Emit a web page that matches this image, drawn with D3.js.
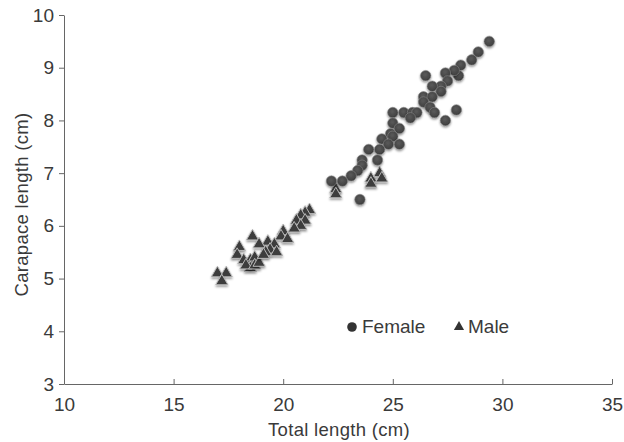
<!DOCTYPE html>
<html>
<head>
<meta charset="utf-8">
<script src="https://cdn.jsdelivr.net/npm/d3@7"></script>
<style>
  body { margin: 0; background: #fff; }
  svg { font-family: "Liberation Sans", Arial, sans-serif; }
  .axis path, .axis line { stroke: #666; }
  .axis text { font-size: 19px; fill: #3a3a3a; }
</style>
</head>
<body>
<svg id="chart" width="624" height="442"></svg>
<script>
// Female: total length (cm), carapace length (cm)
const femaleTL = [29.4, 28.9, 28.6, 28.1, 28.0, 27.8, 27.4, 26.5, 27.5, 27.2, 26.8, 27.2, 26.4, 26.8,
  26.4, 26.7, 27.9, 26.9, 27.4, 25.0, 25.5, 25.9, 26.1, 25.8, 25.0, 25.3, 24.9, 25.0, 24.5, 24.8,
  25.3, 24.4, 23.9, 24.3, 23.6, 23.6, 23.4, 23.1, 22.7, 22.2, 23.5];
const femaleCL = [9.5, 9.3, 9.15, 9.05, 8.85, 8.95, 8.9, 8.85, 8.75, 8.65, 8.65, 8.55, 8.45, 8.45,
  8.35, 8.25, 8.2, 8.15, 8.0, 8.15, 8.15, 8.15, 8.15, 8.05, 7.95, 7.85, 7.75, 7.7, 7.65, 7.55,
  7.55, 7.45, 7.45, 7.25, 7.25, 7.15, 7.05, 6.95, 6.85, 6.85, 6.5];
// Male
const maleTL = [21.2, 21.0, 20.8, 20.6, 21.0, 20.8, 20.5, 20.0, 19.9, 18.6, 19.3, 18.9, 19.6, 19.4,
  19.2, 18.0, 17.9, 18.2, 18.5, 18.7, 18.5, 17.0, 17.4, 17.2, 22.4, 22.4, 24.0, 24.0, 24.4, 24.5,
  18.3, 18.7, 18.9, 19.1, 19.7, 20.2];
const maleCL = [6.3, 6.25, 6.2, 6.1, 6.1, 6.0, 5.95, 5.9, 5.8, 5.8, 5.7, 5.65, 5.65, 5.55,
  5.5, 5.6, 5.45, 5.35, 5.35, 5.4, 5.2, 5.1, 5.1, 4.95, 6.7, 6.6, 6.9, 6.8, 7.0, 6.9,
  5.25, 5.25, 5.3, 5.45, 5.5, 5.75];

const xTicks = [10, 15, 20, 25, 30, 35];
const yTicks = [3, 4, 5, 6, 7, 8, 9, 10];

const svg = d3.select('#chart');
const margin = {left: 64, right: 12, top: 15, bottom: 58};
const width = 624, height = 442;

const x = d3.scaleLinear().domain([10, 35]).range([margin.left, width - margin.right]);
const y = d3.scaleLinear().domain([3, 10]).range([height - margin.bottom, margin.top]);

// shading for markers
const defs = svg.append('defs');
const grad = defs.append('radialGradient').attr('id', 'dotGrad')
  .attr('cx', '45%').attr('cy', '40%').attr('r', '60%');
grad.append('stop').attr('offset', '0%').attr('stop-color', '#5a5a5a');
grad.append('stop').attr('offset', '80%').attr('stop-color', '#444');
grad.append('stop').attr('offset', '100%').attr('stop-color', '#2c2c2c');
const shadow = defs.append('filter').attr('id', 'shadow')
  .attr('x', '-50%').attr('y', '-50%').attr('width', '200%').attr('height', '200%');
shadow.append('feDropShadow').attr('dx', 0).attr('dy', 1.5).attr('stdDeviation', 1.3)
  .attr('flood-color', '#000').attr('flood-opacity', 0.45);

// axes
const xAxis = d3.axisBottom(x).tickValues(xTicks).tickFormat(d3.format('d'))
  .tickSizeInner(-5).tickSizeOuter(0).tickPadding(14);
svg.append('g').attr('class', 'axis')
  .attr('transform', `translate(0,${y(3)})`)
  .call(xAxis);

const yAxis = d3.axisLeft(y).tickValues(yTicks).tickFormat(d3.format('d'))
  .tickSizeInner(5).tickSizeOuter(0).tickPadding(5);
svg.append('g').attr('class', 'axis')
  .attr('transform', `translate(${x(10)},0)`)
  .call(yAxis);

svg.append('text')
  .attr('x', (x(10) + x(35)) / 2 + 1).attr('y', 436)
  .attr('text-anchor', 'middle').attr('font-size', 18.5).attr('fill', '#3a3a3a')
  .attr('letter-spacing', 0.3)
  .text('Total length (cm)');

svg.append('text')
  .attr('transform', `translate(28,${(y(3) + y(10)) / 2 + 5}) rotate(-90)`)
  .attr('text-anchor', 'middle').attr('font-size', 18.5).attr('fill', '#3a3a3a')
  .attr('letter-spacing', 0.3)
  .text('Carapace length (cm)');

// points
const tri = d3.symbol().type(d3.symbolTriangle).size(64);

const males = maleTL.map((v, i) => [v, maleCL[i]]);
const females = femaleTL.map((v, i) => [v, femaleCL[i]]);

svg.append('g').selectAll('path')
  .data(males).join('path')
  .attr('d', tri)
  .attr('transform', d => `translate(${x(d[0])},${y(d[1])})`)
  .attr('fill', '#3d3d3d').attr('stroke', '#b8b8b8').attr('stroke-width', 1)
  .attr('filter', 'url(#shadow)');

svg.append('g').selectAll('circle')
  .data(females).join('circle')
  .attr('cx', d => x(d[0])).attr('cy', d => y(d[1])).attr('r', 5.2)
  .attr('fill', 'url(#dotGrad)').attr('stroke', '#888').attr('stroke-width', 0.6)
  .attr('filter', 'url(#shadow)');

// legend
const legend = svg.append('g').attr('font-size', 19).attr('fill', '#3a3a3a');
legend.append('circle').attr('cx', 352).attr('cy', 327).attr('r', 4.8).attr('fill', '#333');
legend.append('text').attr('x', 362).attr('y', 333).text('Female');
legend.append('path').attr('d', d3.symbol().type(d3.symbolTriangle).size(45))
  .attr('transform', 'translate(459,327)').attr('fill', '#333');
legend.append('text').attr('x', 468).attr('y', 333).text('Male');
</script>
</body>
</html>
